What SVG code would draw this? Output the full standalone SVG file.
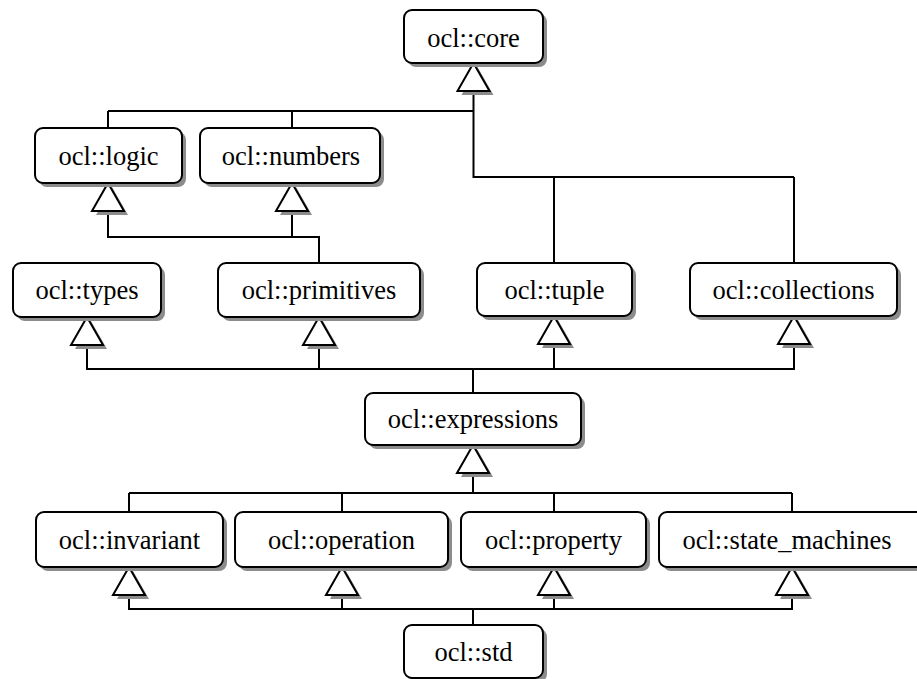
<svg xmlns="http://www.w3.org/2000/svg" width="917" height="679" viewBox="0 0 917 679">
  <style>
    .box { fill: #ffffff; stroke: #000000; stroke-width: 2; }
    .shadow { fill: #8c8c8c; stroke: none; }
    .label { font-size: 26.5px; fill: #000000; text-anchor: middle; }
    .wire { fill: none; stroke: #000000; stroke-width: 2; }
    .tri { fill: #ffffff; stroke: #000000; stroke-width: 2; stroke-linejoin: miter; }
    .trishadow { fill: #8c8c8c; stroke: none; }
  </style>
  <defs>
    <!-- hollow generalization head, tip at origin pointing up -->
    <g id="genHead">
      <polygon class="trishadow" points="4,4 20,32 -12,32"/>
      <polygon class="tri" points="0,0 16,28 -16,28"/>
    </g>
  </defs>
  <rect width="917" height="679" fill="#ffffff"/>

  <!-- connectors -->
  <g id="connectors">
    <!-- core generalizations -->
    <path class="wire" d="M473.5,91 V111 M108,111 H473.5 M108,111 V128 M292,111 V128 M473.5,111 V177 H794 M554,177 V263 M794,177 V263"/>
    <path class="wire" stroke-width="3" d="M473.5,177 H554"/>
    <!-- logic / numbers generalizations -->
    <path class="wire" d="M108,211 V237 H319 V263 M292,211 V237"/>
    <!-- types / primitives / tuple / collections generalizations -->
    <path class="wire" d="M87,345 V369 H794 V345 M319,345 V369 M554,345 V369 M473,369 V393"/>
    <!-- expressions generalizations -->
    <path class="wire" d="M473,473 V493 M129,493 H792 M129,493 V512 M342,493 V512 M554,493 V512 M792,493 V512"/>
    <!-- std generalizations -->
    <path class="wire" d="M129,595 V609 H792 V595 M342,595 V609 M554,595 V609 M473,609 V625"/>
    <use href="#genHead" x="473.5" y="63"/>
    <use href="#genHead" x="108" y="183"/>
    <use href="#genHead" x="292" y="183"/>
    <use href="#genHead" x="87" y="317"/>
    <use href="#genHead" x="319" y="317"/>
    <use href="#genHead" x="554" y="316"/>
    <use href="#genHead" x="794" y="316"/>
    <use href="#genHead" x="473" y="445"/>
    <use href="#genHead" x="129" y="567"/>
    <use href="#genHead" x="342" y="567"/>
    <use href="#genHead" x="554" y="567"/>
    <use href="#genHead" x="792" y="567"/>
  </g>

  <!-- packages -->
  <g font-family="'Liberation Serif', 'Times New Roman', 'DejaVu Serif', serif">
  <g id="core">
    <rect class="shadow" x="408" y="14" width="139" height="53" rx="8"/>
    <rect class="box" x="404" y="10" width="139" height="53" rx="8"/>
    <text class="label" x="473.5" y="47">ocl::core</text>
  </g>
  <g id="logic">
    <rect class="shadow" x="39" y="132" width="147" height="55" rx="8"/>
    <rect class="box" x="35" y="128" width="147" height="55" rx="8"/>
    <text class="label" x="108.5" y="165">ocl::logic</text>
  </g>
  <g id="numbers">
    <rect class="shadow" x="204" y="132" width="180" height="55" rx="8"/>
    <rect class="box" x="200" y="128" width="180" height="55" rx="8"/>
    <text class="label" x="291" y="165">ocl::numbers</text>
  </g>
  <g id="types">
    <rect class="shadow" x="17" y="267" width="148" height="54" rx="8"/>
    <rect class="box" x="13" y="263" width="148" height="54" rx="8"/>
    <text class="label" x="87" y="299">ocl::types</text>
  </g>
  <g id="primitives">
    <rect class="shadow" x="222" y="267" width="202" height="54" rx="8"/>
    <rect class="box" x="218" y="263" width="202" height="54" rx="8"/>
    <text class="label" x="319" y="299">ocl::primitives</text>
  </g>
  <g id="tuple">
    <rect class="shadow" x="481" y="267" width="155" height="53" rx="8"/>
    <rect class="box" x="477" y="263" width="155" height="53" rx="8"/>
    <text class="label" x="554.5" y="299">ocl::tuple</text>
  </g>
  <g id="collections">
    <rect class="shadow" x="694" y="267" width="207" height="53" rx="8"/>
    <rect class="box" x="690" y="263" width="207" height="53" rx="8"/>
    <text class="label" x="793.5" y="299">ocl::collections</text>
  </g>
  <g id="expressions">
    <rect class="shadow" x="369" y="397" width="216" height="52" rx="8"/>
    <rect class="box" x="365" y="393" width="216" height="52" rx="8"/>
    <text class="label" x="473" y="428">ocl::expressions</text>
  </g>
  <g id="invariant">
    <rect class="shadow" x="40" y="516" width="187" height="55" rx="8"/>
    <rect class="box" x="36" y="512" width="187" height="55" rx="8"/>
    <text class="label" x="129.5" y="549">ocl::invariant</text>
  </g>
  <g id="operation">
    <rect class="shadow" x="239" y="516" width="213" height="55" rx="8"/>
    <rect class="box" x="235" y="512" width="213" height="55" rx="8"/>
    <text class="label" x="341.5" y="549">ocl::operation</text>
  </g>
  <g id="property">
    <rect class="shadow" x="465" y="516" width="185" height="55" rx="8"/>
    <rect class="box" x="461" y="512" width="185" height="55" rx="8"/>
    <text class="label" x="553.5" y="549">ocl::property</text>
  </g>
  <g id="state_machines">
    <rect class="shadow" x="663" y="516" width="266" height="55" rx="8"/>
    <rect class="box" x="659" y="512" width="266" height="55" rx="8"/>
    <text class="label" x="787" y="549">ocl::state_machines</text>
  </g>
  <g id="std">
    <rect class="shadow" x="408" y="629" width="139" height="53" rx="8"/>
    <rect class="box" x="404" y="625" width="139" height="53" rx="8"/>
    <text class="label" x="473.5" y="661">ocl::std</text>
  </g>
  </g>
</svg>
